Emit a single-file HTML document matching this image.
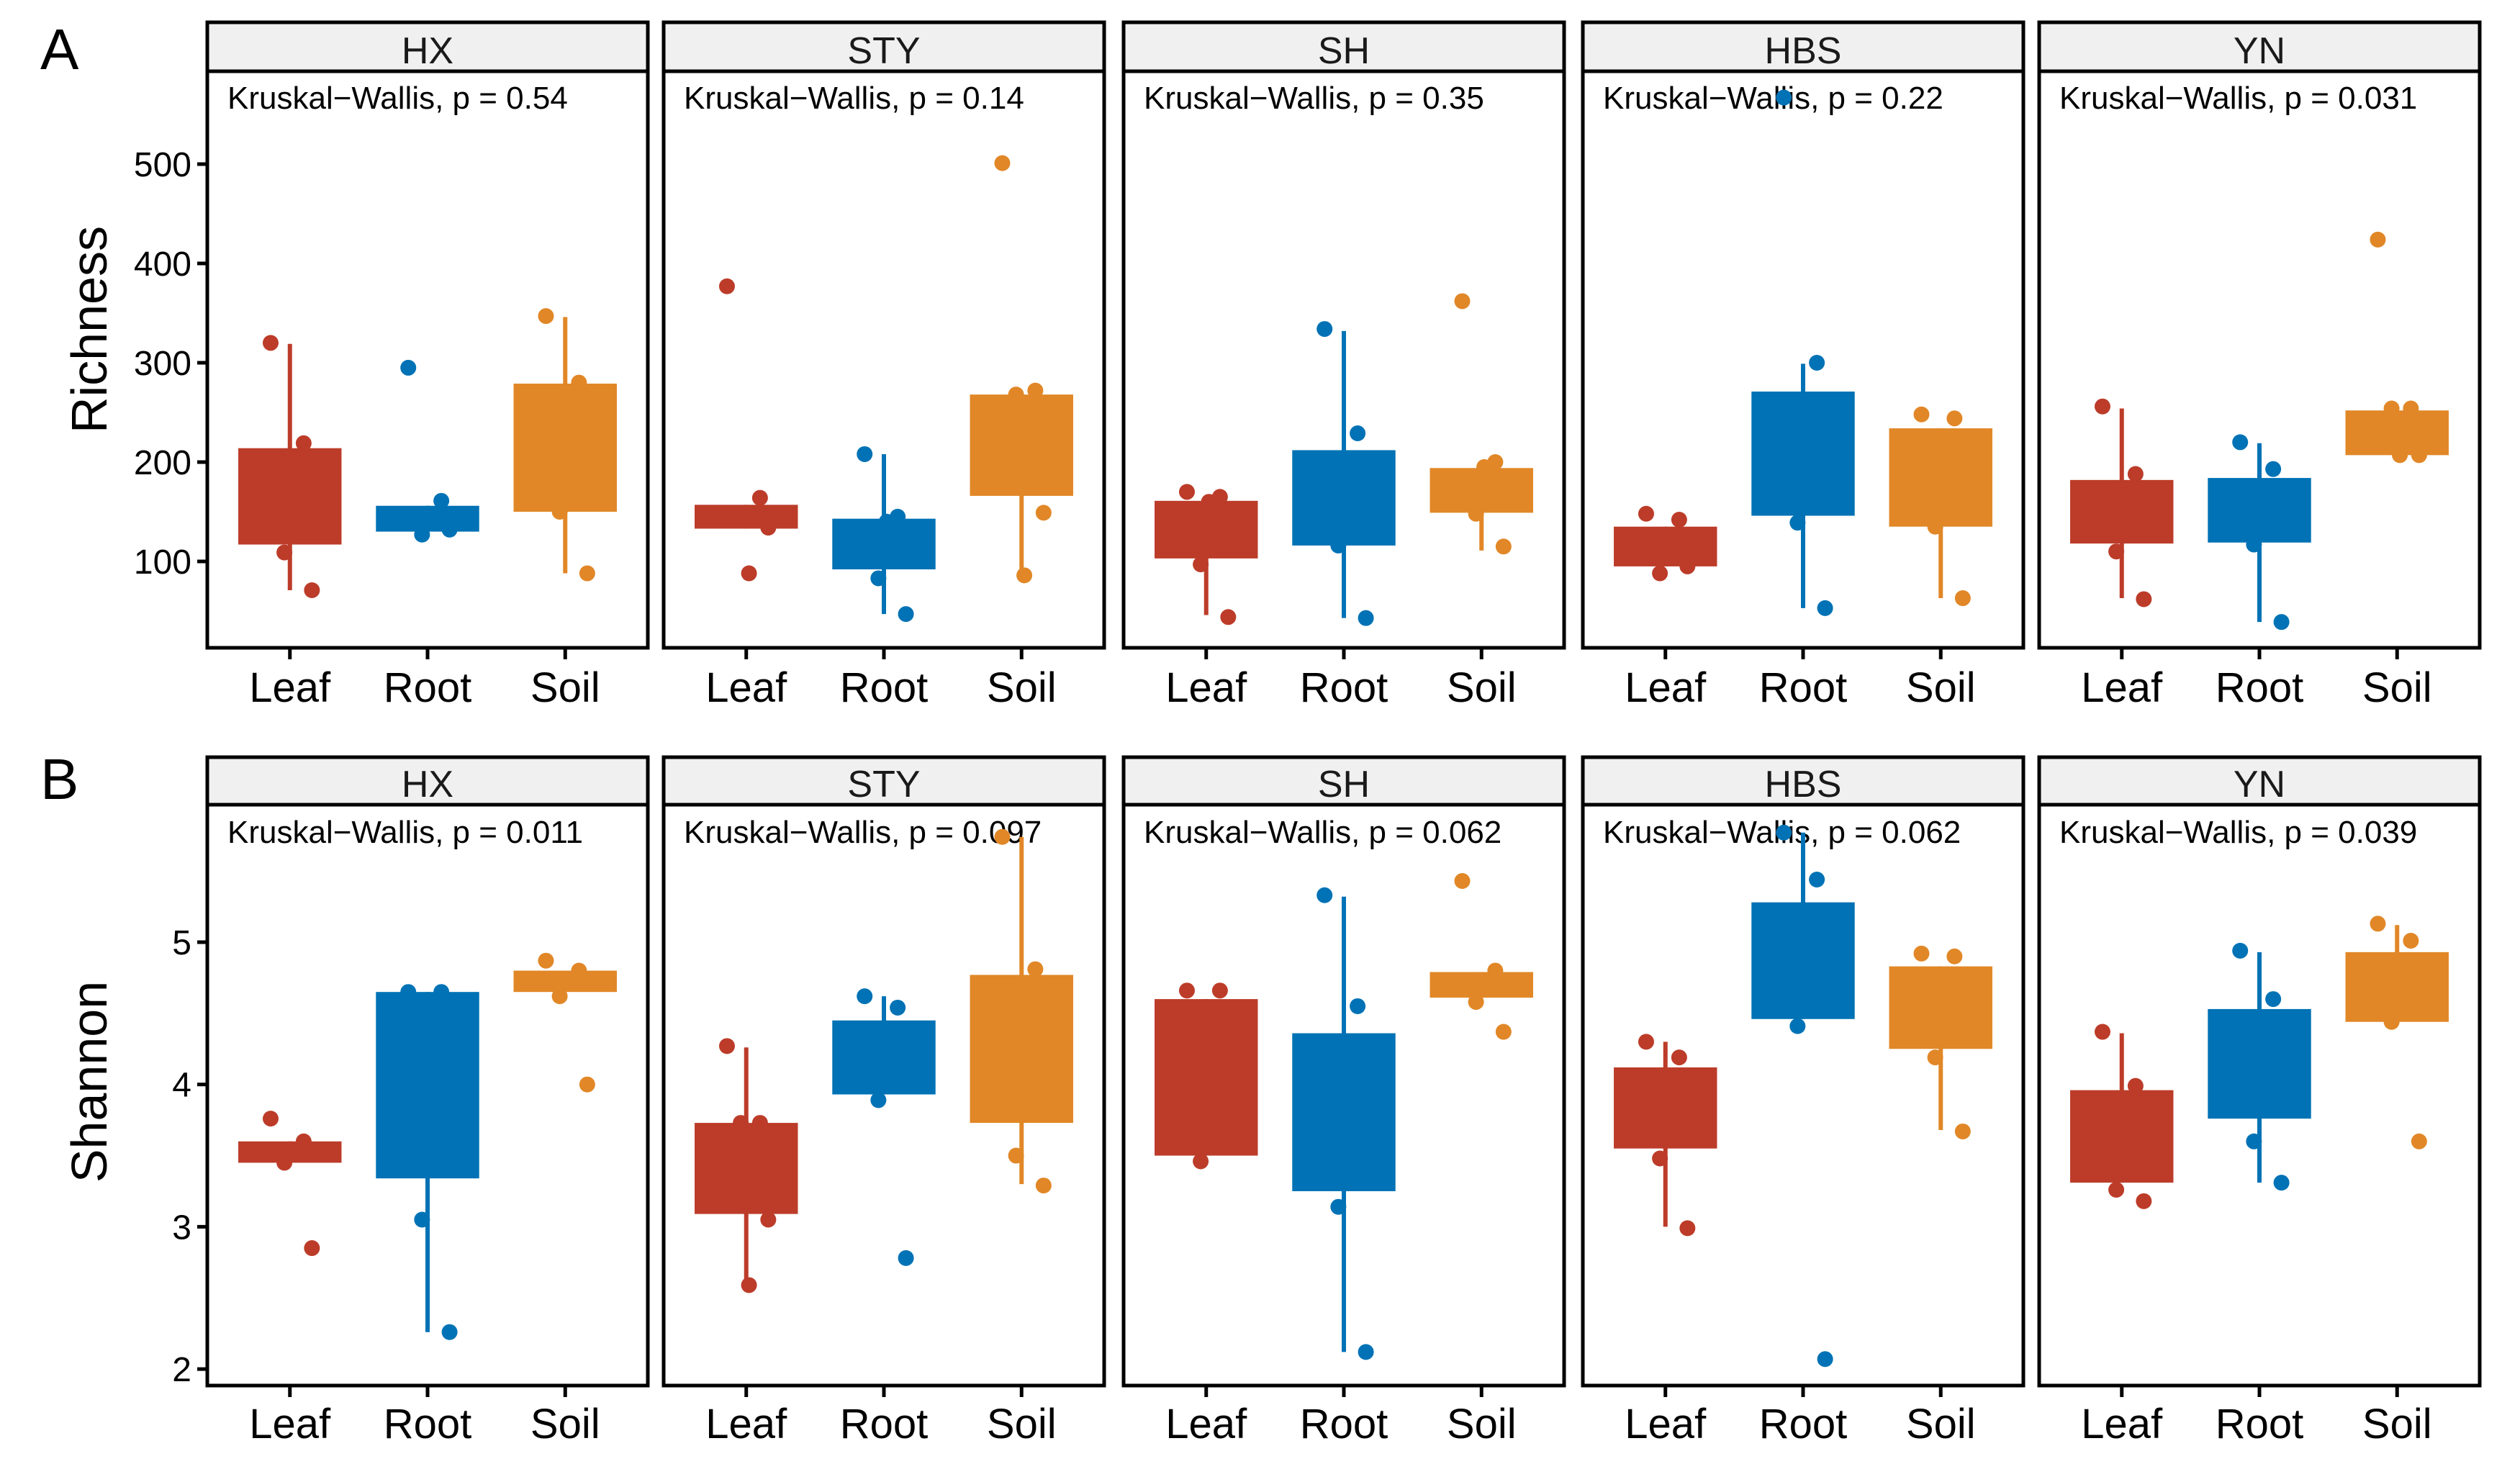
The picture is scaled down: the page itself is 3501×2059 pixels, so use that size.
<!DOCTYPE html>
<html><head><meta charset="utf-8"><title>Richness and Shannon boxplots</title>
<style>
html,body{margin:0;padding:0;background:#fff;}
svg{display:block;font-family:"Liberation Sans",Arial,sans-serif;}
</style></head>
<body>
<svg id="chart" width="3501" height="2059" viewBox="0 0 3501 2059" xmlns="http://www.w3.org/2000/svg">
<rect width="3501" height="2059" fill="#fff"/>
<text x="56" y="96" font-size="80">A</text>
<text x="56" y="1110" font-size="80">B</text>
<text transform="translate(148,458) rotate(-90)" text-anchor="middle" font-size="70">Richness</text>
<text transform="translate(148,1503) rotate(-90)" text-anchor="middle" font-size="70">Shannon</text>
</svg>
<script>
const sites = ['HX','STY','SH','HBS','YN'];
const groups = ['Leaf','Root','Soil'];
const colors = ['#BC3C29','#0072B5','#E18727'];

const richP = ['0.54','0.14','0.35','0.22','0.031'];
const richTicks = [100,200,300,400,500];
const richQ1 = [[117,130,150],[133,92,166],[103,116,149],[95,146,135],[118,119,207]];
const richQ3 = [[214,156,279],[157,143,268],[161,212,194],[135,271,234],[182,184,252]];
const richLo = [[71,130,88],[133,47,86],[46,43,111],[95,53,63],[63,39,207]];
const richHi = [[319,156,346],[157,208,268],[161,332,194],[135,299,234],[254,219,252]];
const richPts = [
  [[320,219,109,71,160],[295,161,127,132,145],[347,280,150,88,270]],
  [[377,164,145,134,88],[208,145,83,47,140],[501,272,268,149,86]],
  [[170,165,97,44,160],[334,229,116,43],[362,200,148,115,195]],
  [[148,142,88,95,120],[567,300,139,53],[248,244,135,63]],
  [[256,188,110,62],[220,193,117,39],[424,254,254,207,207]]
];

const shanP = ['0.011','0.097','0.062','0.062','0.039'];
const shanTicks = [2,3,4,5];
const shanQ1 = [[3.45,3.34,4.65],[3.09,3.93,3.73],[3.50,3.25,4.61],[3.55,4.46,4.25],[3.31,3.76,4.44]];
const shanQ3 = [[3.60,4.65,4.80],[3.73,4.45,4.77],[4.60,4.36,4.79],[4.12,5.28,4.83],[3.96,4.53,4.93]];
const shanLo = [[3.45,2.26,4.65],[2.60,3.93,3.30],[3.50,2.12,4.61],[3.00,4.46,3.68],[3.31,3.31,4.44]];
const shanHi = [[3.60,4.65,4.80],[4.26,4.62,5.74],[4.60,5.32,4.79],[4.30,5.77,4.83],[4.36,4.93,5.12]];
const shanPts = [
  [[3.76,3.60,3.45,2.85],[4.65,4.65,3.05,2.26],[4.87,4.80,4.62,4.00]],
  [[4.27,3.73,3.73,3.05,2.59],[4.62,4.54,3.89,2.78],[5.74,4.81,3.50,3.29]],
  [[4.66,4.66,3.46],[5.33,4.55,3.14,2.12],[5.43,4.80,4.58,4.37]],
  [[4.30,4.19,3.48,2.99],[5.77,5.44,4.41,2.07],[4.92,4.90,4.19,3.67]],
  [[4.37,3.99,3.26,3.18],[4.94,4.60,3.60,3.31],[5.13,5.01,4.44,3.60]]
];

const NS = 'http://www.w3.org/2000/svg';
const svg = document.getElementById('chart');
const panelLeft = [288, 922, 1561, 2199, 2833];
const panelW = 612;
const jit = [-0.14, 0.1, -0.04, 0.16, 0.02, -0.1];

function mk(tag, attrs, parent) {
  const e = document.createElementNS(NS, tag);
  for (const k in attrs) e.setAttribute(k, attrs[k]);
  (parent || svg).appendChild(e);
  return e;
}

const rows = [
  {key:'richness', P:richP, ticks:richTicks, Q1:richQ1, Q3:richQ3, Lo:richLo, Hi:richHi, Pts:richPts,
   stripTop:31, stripBot:99, plotBot:900, stripBase:88, kwBase:151, xlabBase:975,
   y: v => 780 - (v - 100) * 1.38},
  {key:'shannon', P:shanP, ticks:shanTicks, Q1:shanQ1, Q3:shanQ3, Lo:shanLo, Hi:shanHi, Pts:shanPts,
   stripTop:1052, stripBot:1118, plotBot:1925, stripBase:1107, kwBase:1171, xlabBase:1998,
   y: v => 1309 - (v - 5) * 197.7}
];

rows.forEach(function(row) {
  sites.forEach(function(site, s) {
    const L = panelLeft[s];
    const xOf = i => L + (0.6 + i) * panelW / 3.2;
    const unit = panelW / 3.2;
    const g = mk('g', {});
    
    

    const strip = mk('rect', {x:L, y:row.stripTop, width:panelW, height:row.stripBot-row.stripTop, fill:'#f0f0f0', stroke:'#000', 'stroke-width':5}, g);
    
    
    const st = mk('text', {x:L+panelW/2, y:row.stripBase, 'text-anchor':'middle', 'font-size':52, fill:'#1a1a1a'}, g);
    st.textContent = site;
    
    

    const frame = mk('rect', {x:L, y:row.stripBot, width:panelW, height:row.plotBot-row.stripBot, fill:'#fff', stroke:'#000', 'stroke-width':5}, g);
    
    

    const kw = mk('text', {x:L+28, y:row.kwBase, 'font-size':44, fill:'#000'}, g);
    kw.textContent = 'Kruskal\u2212Wallis, p = ' + row.P[s];
    
    

    groups.forEach(function(grp, i) {
      const cx = xOf(i);
      const col = colors[i];
      const bg = mk('g', {}, g);
      
      
      const yq1 = row.y(row.Q1[s][i]), yq3 = row.y(row.Q3[s][i]);
      const yl = row.y(row.Lo[s][i]), yh = row.y(row.Hi[s][i]);
      mk('line', {x1:cx, x2:cx, y1:yh, y2:yl, stroke:col, 'stroke-width':6}, bg);
      mk('rect', {x:cx-0.375*unit, y:yq3, width:0.75*unit, height:Math.max(2,yq1-yq3), fill:col}, bg);
      row.Pts[s][i].forEach(function(v, k) {
        const c = mk('circle', {cx:cx + jit[k % jit.length]*unit, cy:row.y(v), r:11, fill:col}, bg);
        
        
      });
      mk('line', {x1:cx, x2:cx, y1:row.plotBot, y2:row.plotBot+16, stroke:'#000', 'stroke-width':5}, g);
      const xl = mk('text', {x:cx, y:row.xlabBase, 'text-anchor':'middle', 'font-size':58, fill:'#000'}, g);
      xl.textContent = grp;
      
      
    });

    if (s === 0) {
      row.ticks.forEach(function(t) {
        const ty = row.y(t);
        mk('line', {x1:L-14, x2:L, y1:ty, y2:ty, stroke:'#000', 'stroke-width':5});
        const tl = mk('text', {x:L-22, y:ty+17, 'text-anchor':'end', 'font-size':48, fill:'#000'});
        tl.textContent = String(t);
        
        
      });
    }
  });
});
</script>
</body></html>
